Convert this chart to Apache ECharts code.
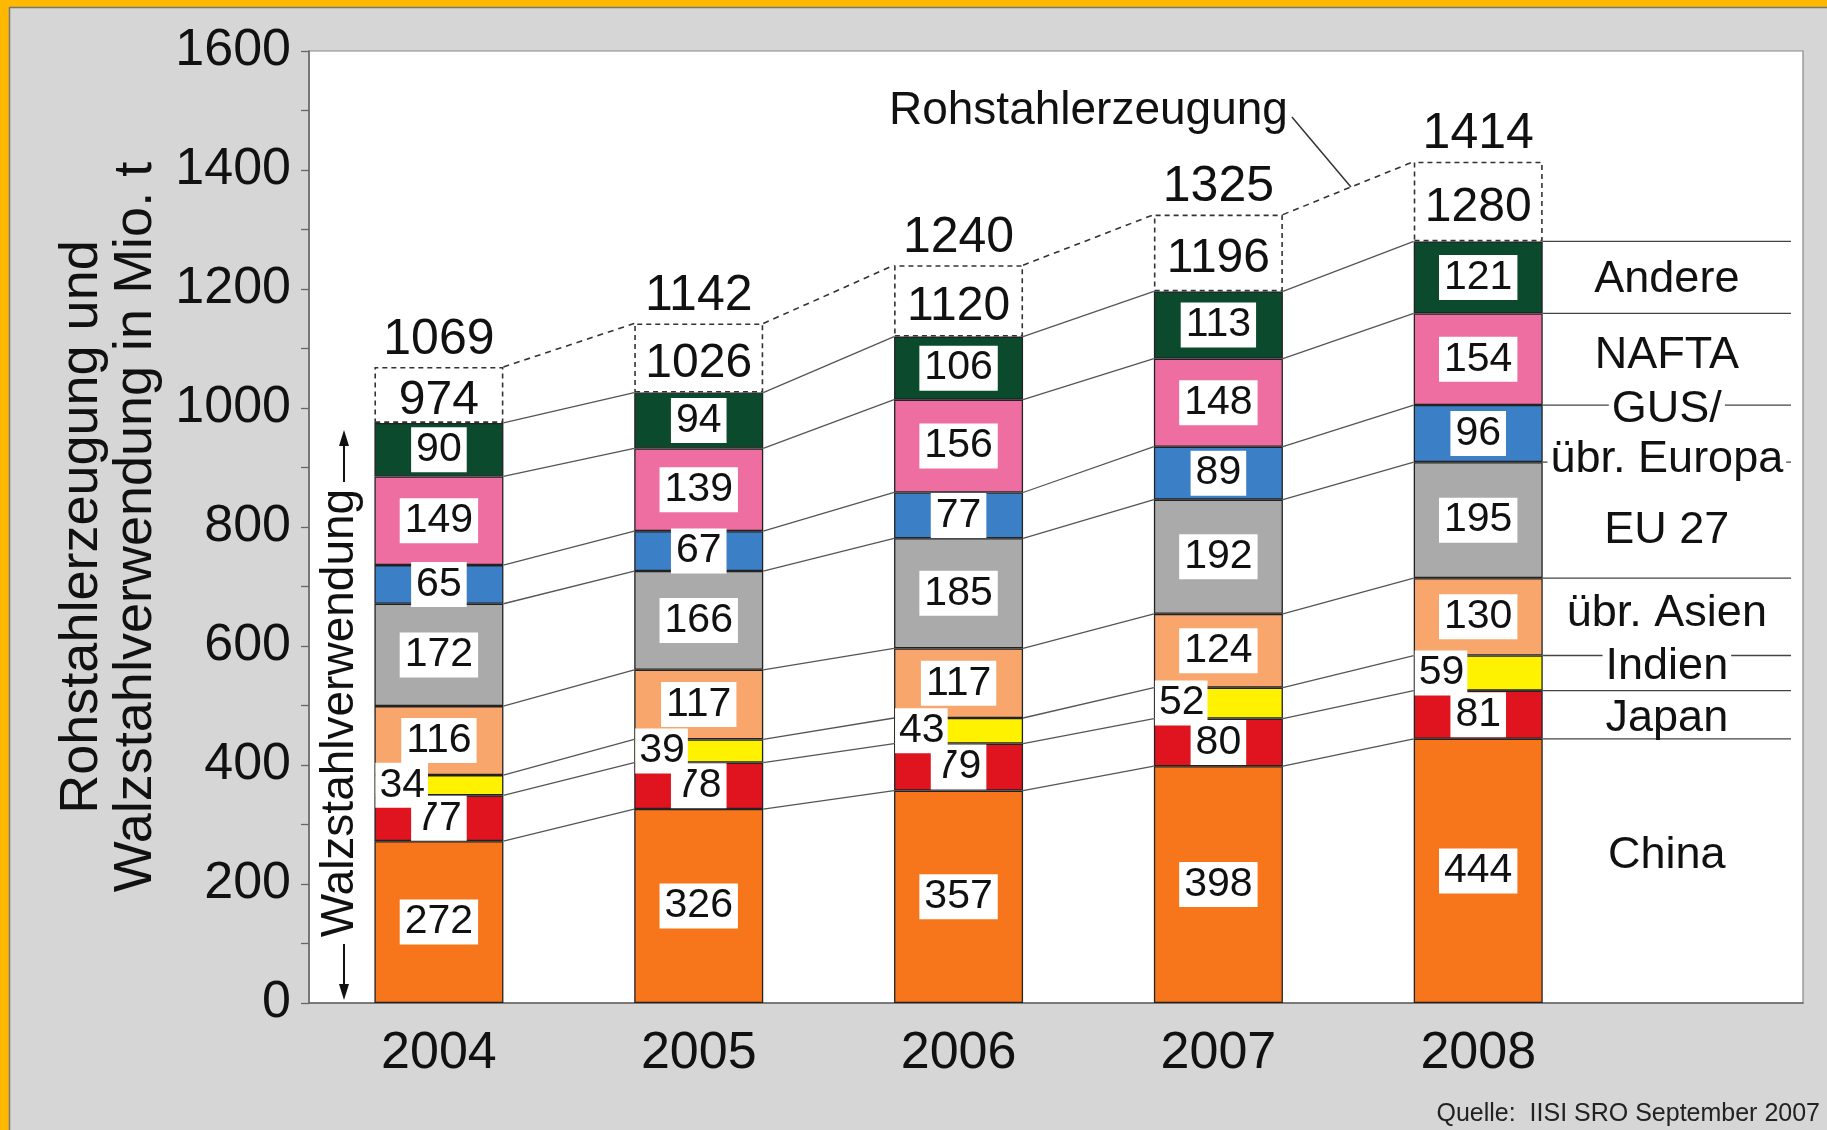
<!DOCTYPE html>
<html><head><meta charset="utf-8">
<script src="https://cdn.jsdelivr.net/npm/echarts@6/dist/echarts.min.js"></script>
<style>html,body{margin:0;padding:0;background:#d6d6d6}#c{width:1827px;height:1130px}</style>
</head><body><div id="c"></div>
<script>
// ---------- data ----------
const years = ['2004', '2005', '2006', '2007', '2008'];
const regions = ['China', 'Japan', 'Indien', 'übr. Asien', 'EU 27', 'GUS/übr. Europa', 'NAFTA', 'Andere'];
const china  = [272, 326, 357, 398, 444];
const japan  = [77, 78, 79, 80, 81];
const indien = [34, 39, 43, 52, 59];
const asien  = [116, 117, 117, 124, 130];
const eu27   = [172, 166, 185, 192, 195];
const gus    = [65, 67, 77, 89, 96];
const nafta  = [149, 139, 156, 148, 154];
const andere = [90, 94, 106, 113, 121];
const usageTotal = [974, 1026, 1120, 1196, 1280];     // Walzstahlverwendung
const production = [1069, 1142, 1240, 1325, 1414];    // Rohstahlerzeugung
const yTickLabels = [0, 200, 400, 600, 800, 1000, 1200, 1400, 1600];

// ---------- styles ----------
const segs = [china, japan, indien, asien, eu27, gus, nafta, andere];
const colors = ['#f7761c', '#e0141e', '#fff200', '#f9a66c', '#aaaaaa', '#3b7fc7', '#ee6ea1', '#0b4a2c'];
const FONT = "'Liberation Sans', Arial, Helvetica, sans-serif";
const BW = 129;           // bar width px
const TXT = '#111';

// cumulative tops per year / segment
const cum = years.map((_, i) => {
  let s = 0; return segs.map(a => (s += a[i]));
});

function renderConnectors(params, api) {
  const i = params.dataIndex;
  const half = BW / 2;
  const ch = [];
  for (let k = 0; k < segs.length; k++) {
    const a = api.coord([i, cum[i][k]]);
    const b = api.coord([i + 1, cum[i + 1][k]]);
    ch.push({ type: 'line', shape: { x1: a[0] + half, y1: a[1], x2: b[0] - half, y2: b[1] },
      style: { stroke: '#555', lineWidth: 1.3 } });
  }
  const a = api.coord([i, production[i]]);
  const b = api.coord([i + 1, production[i + 1]]);
  ch.push({ type: 'line', shape: { x1: a[0] + half, y1: a[1], x2: b[0] - half, y2: b[1] },
    style: { stroke: '#333', lineWidth: 1.6, lineDash: [6, 5] } });
  return { type: 'group', children: ch };
}

function renderLabels(params, api) {
  const i = params.dataIndex;
  const half = BW / 2;
  const ch = [];
  for (let k = 0; k < segs.length; k++) {
    const lo = k ? cum[i][k - 1] : 0;
    const p = api.coord([i, (lo + cum[i][k]) / 2]);
    const left = (k === 2);
    ch.push({ type: 'text', style: {
      text: String(segs[k][i]), x: left ? p[0] - half + 1 : p[0], y: p[1],
      font: `41px ${FONT}`, fill: TXT, align: left ? 'left' : 'center', verticalAlign: 'middle',
      backgroundColor: '#fff', padding: left ? [1, 3, 0, 4] : [1, 5, 0, 5], lineHeight: 44 } });
  }
  const pm = api.coord([i, (cum[i][7] + production[i]) / 2]);
  ch.push({ type: 'text', style: { text: String(usageTotal[i]), x: pm[0], y: pm[1] + 6,
    font: `48px ${FONT}`, fill: TXT, align: 'center', verticalAlign: 'middle' } });
  const pt = api.coord([i, production[i]]);
  ch.push({ type: 'text', style: { text: String(production[i]), x: pt[0], y: pt[1] - 2,
    font: `50px ${FONT}`, fill: TXT, align: 'center', verticalAlign: 'bottom' } });
  return { type: 'group', children: ch };
}

function renderRight(params, api) {
  const cs = params.coordSys;
  const i = years.length - 1;
  const half = BW / 2;
  const xL = api.coord([i, 0])[0] + half;
  const xR = cs.x + cs.width - 12;
  const xc = (xL + xR) / 2;
  const ch = [];
  for (let k = 0; k < segs.length; k++) {
    const y = api.coord([i, cum[i][k]])[1];
    ch.push({ type: 'line', shape: { x1: xL, y1: y, x2: xR, y2: y }, style: { stroke: '#444', lineWidth: 1.3 } });
  }
  const txt = (s, y, bg) => ({ type: 'text', style: { text: s, x: xc, y: y,
    font: `45px ${FONT}`, fill: TXT, align: 'center', verticalAlign: 'middle',
    backgroundColor: bg ? '#fff' : 'transparent', padding: bg ? [0, 3] : 0 } });
  const nudge = [-15, 4, -6, -3, 10, 0, -4, 2];
  for (let k = 0; k < segs.length; k++) {
    if (k === 5) {
      const yTop = api.coord([i, cum[i][5]])[1];
      const yBot = api.coord([i, cum[i][4]])[1];
      ch.push(txt('GUS/', yTop + 5, true));
      ch.push(txt('übr. Europa', yBot - 3, true));
      continue;
    }
    const lo = k ? cum[i][k - 1] : 0;
    const y = api.coord([i, (lo + cum[i][k]) / 2])[1] + nudge[k];
    ch.push(txt(regions[k], y, k === 2));
  }
  // Rohstahlerzeugung annotation with leader line
  const A = api.coord([i - 1, production[i - 1]]); A[0] += half;
  const B = api.coord([i, production[i]]); B[0] -= half;
  const t = 0.52;
  const E = [A[0] + (B[0] - A[0]) * t, A[1] + (B[1] - A[1]) * t];
  const S = [E[0] - 59, E[1] - 70];
  ch.push({ type: 'line', shape: { x1: S[0], y1: S[1], x2: E[0], y2: E[1] }, style: { stroke: '#333', lineWidth: 1.5 } });
  ch.push({ type: 'text', style: { text: 'Rohstahlerzeugung', x: S[0] - 4, y: S[1] - 6,
    font: `46px ${FONT}`, fill: TXT, align: 'right', verticalAlign: 'middle' } });
  return { type: 'group', children: ch };
}

const barSeries = segs.map((arr, k) => ({
  type: 'bar', name: regions[k], stack: 'usage', barWidth: BW, silent: true,
  encode: { x: 1, y: 0 },
  data: arr.map((v, i) => [v, i]),
  itemStyle: { color: colors[k], borderColor: '#222', borderWidth: 1.3 },
  emphasis: { disabled: true }
}));
barSeries.push({
  type: 'bar', name: 'Rohstahlerzeugung', stack: 'usage', barWidth: BW, silent: true,
  encode: { x: 1, y: 0 },
  data: production.map((v, i) => [v - cum[i][7], i]),
  itemStyle: { color: 'rgba(0,0,0,0)', borderColor: '#333', borderWidth: 1.6, borderType: [5, 4] },
  emphasis: { disabled: true }
});

// vertical "Walzstahlverwendung" arrows (annotation, pixels)
const AX = 344;
const arrowGraphics = [
  { type: 'line', z: 10, shape: { x1: AX, y1: 440, x2: AX, y2: 482 }, style: { stroke: TXT, lineWidth: 2 } },
  { type: 'polygon', z: 10, shape: { points: [[AX, 430], [AX - 5, 446], [AX + 5, 446]] }, style: { fill: TXT } },
  { type: 'line', z: 10, shape: { x1: AX, y1: 944, x2: AX, y2: 990 }, style: { stroke: TXT, lineWidth: 2 } },
  { type: 'polygon', z: 10, shape: { points: [[AX, 1000], [AX - 5, 984], [AX + 5, 984]] }, style: { fill: TXT } }
];

const chart = echarts.init(document.getElementById('c'), null, { renderer: 'canvas' });
chart.setOption({
  animation: false,
  backgroundColor: '#d6d6d6',
  textStyle: { fontFamily: FONT },
  grid: { left: 309, top: 51, right: 24, bottom: 127, show: true, backgroundColor: '#fff', borderColor: '#888', borderWidth: 1.2 },
  xAxis: {
    type: 'value', min: -0.5, max: 5.25,
    splitLine: { show: false }, axisTick: { show: false },
    axisLine: { show: true, onZero: false, lineStyle: { color: '#666', width: 1.5 } },
    axisLabel: { customValues: [0, 1, 2, 3, 4], formatter: v => years[Math.round(v)] || '',
      fontSize: 52, color: TXT, margin: 25, fontFamily: FONT }
  },
  yAxis: {
    type: 'value', min: 0, max: 1600, interval: 100,
    splitLine: { show: false },
    axisLine: { show: true, onZero: false, lineStyle: { color: '#666', width: 1.5 } },
    axisTick: { show: true, inside: false, length: 8, lineStyle: { color: '#666', width: 1.3 } },
    axisLabel: { formatter: v => yTickLabels.includes(v) ? String(v) : '', fontSize: 52, color: TXT, margin: 18, fontFamily: FONT },
    name: 'Rohstahlerzeugung und\nWalzstahlverwendung in Mio. t',
    nameLocation: 'middle', nameGap: 146,
    nameTextStyle: { fontSize: 54, lineHeight: 54, color: TXT, fontFamily: FONT }
  },
  series: barSeries.concat([
    { type: 'custom', name: 'connectors', z: 3, silent: true, renderItem: renderConnectors,
      data: production.slice(0, -1).map((v, i) => [i, v]) },
    { type: 'custom', name: 'labels', z: 5, silent: true, renderItem: renderLabels,
      data: production.map((v, i) => [i, v]) },
    { type: 'custom', name: 'regions', z: 4, silent: true, renderItem: renderRight,
      data: [[years.length - 1, production[years.length - 1]]] }
  ]),
  graphic: [
    { type: 'text', z: 10, x: 340, y: 713, rotation: Math.PI / 2,
      style: { text: 'Walzstahlverwendung', font: `46px ${FONT}`, fill: TXT, align: 'center', verticalAlign: 'middle' } },
    ...arrowGraphics,
    { type: 'text', z: 10, x: 1820, y: 1114,
      style: { text: 'Quelle:  IISI SRO September 2007', font: `25px ${FONT}`, fill: '#222', align: 'right', verticalAlign: 'middle' } },
    { type: 'rect', z: 20, shape: { x: 0, y: 0, width: 1827, height: 7 }, style: { fill: '#ffb800' } },
    { type: 'rect', z: 20, shape: { x: 0, y: 0, width: 9, height: 1130 }, style: { fill: '#ffb800' } },
    { type: 'line', z: 20, shape: { x1: 9, y1: 7.5, x2: 1827, y2: 7.5 }, style: { stroke: '#777', lineWidth: 1.5 } },
    { type: 'line', z: 20, shape: { x1: 9.5, y1: 7, x2: 9.5, y2: 1130 }, style: { stroke: '#777', lineWidth: 1.5 } }
  ]
});
</script></body></html>
